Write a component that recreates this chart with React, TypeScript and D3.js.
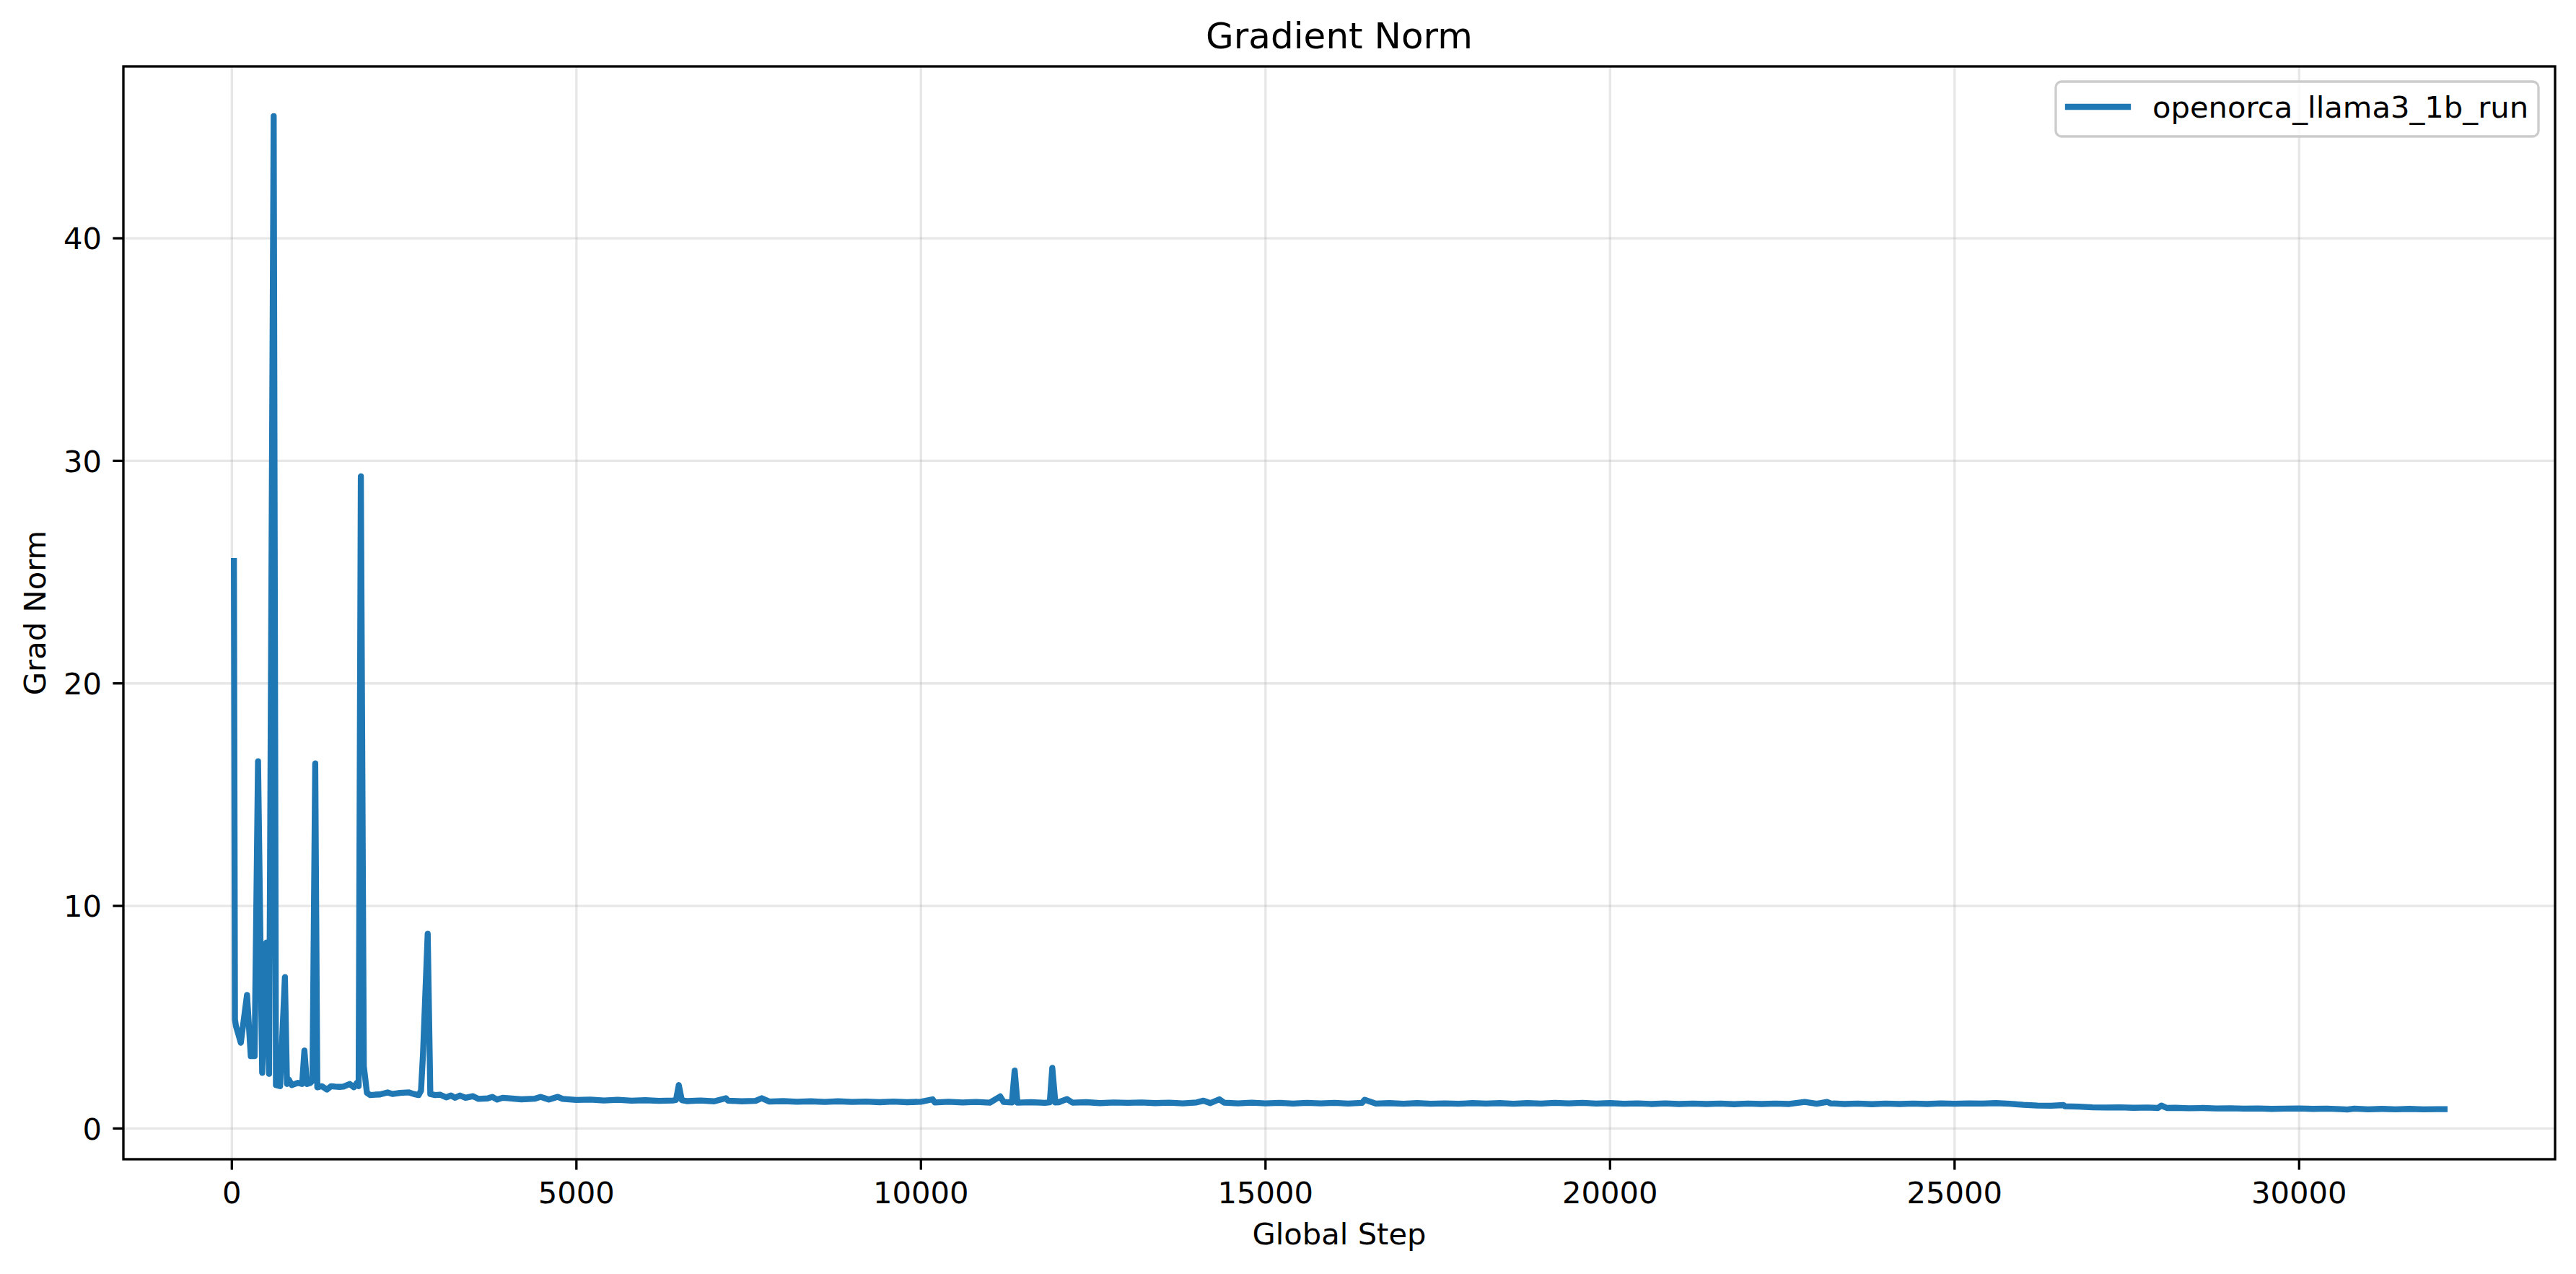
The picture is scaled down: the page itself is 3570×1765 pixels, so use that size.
import React, { useRef, useEffect } from "react";
import * as d3 from "d3";

// early part of the run: spikes
const earlySteps: [number, number][] = [
  [30, 25.5], [45, 4.9], [60, 4.6], [130, 3.85], [220, 6.0], [275, 3.25], [330, 3.25],
  [380, 16.5], [440, 2.5], [500, 8.35], [540, 2.45], [607, 45.49], [640, 1.95], [700, 1.9],
  [770, 6.8], [800, 2.0], [826, 2.2], [870, 1.95], [960, 2.05], [1020, 2.0], [1053, 3.5],
  [1090, 2.0], [1140, 2.05], [1170, 2.15], [1210, 16.4], [1240, 1.85], [1305, 1.9],
  [1380, 1.75], [1440, 1.9], [1500, 1.88], [1560, 1.87], [1620, 1.88], [1710, 2.0],
  [1770, 1.85], [1815, 2.05], [1840, 1.9], [1872, 29.3], [1915, 2.8], [1960, 1.6],
  [2010, 1.5], [2080, 1.52], [2150, 1.53], [2260, 1.62], [2330, 1.55], [2440, 1.6],
  [2570, 1.62], [2640, 1.55], [2710, 1.5], [2745, 1.7], [2775, 3.4], [2842, 8.75],
  [2880, 1.55], [2950, 1.5], [3020, 1.52], [3110, 1.4], [3180, 1.48], [3240, 1.38],
  [3310, 1.48], [3390, 1.38], [3500, 1.45], [3580, 1.33], [3710, 1.35], [3780, 1.42],
  [3850, 1.3], [3930, 1.38],
];

// long flat tail
const tailSteps: [number, number][] = [
  [4000, 1.36], [4200, 1.31], [4400, 1.34], [4480, 1.42], [4600, 1.30], [4730, 1.42], [4800, 1.33],
  [5000, 1.28], [5200, 1.30], [5400, 1.26], [5600, 1.29], [5800, 1.25], [6000, 1.27],
  [6200, 1.24], [6400, 1.26], [6445, 1.28], [6486, 1.95], [6530, 1.27], [6600, 1.23],
  [6800, 1.26], [7000, 1.22], [7170, 1.36], [7200, 1.25], [7400, 1.22], [7600, 1.24],
  [7690, 1.36], [7800, 1.21], [8000, 1.23], [8200, 1.20], [8400, 1.22], [8600, 1.19],
  [8800, 1.22], [9000, 1.19], [9200, 1.21], [9400, 1.18], [9600, 1.21], [9800, 1.18],
  [10000, 1.20], [10170, 1.31], [10200, 1.17], [10400, 1.20], [10600, 1.17], [10800, 1.19],
  [11000, 1.16], [11150, 1.44], [11200, 1.19], [11320, 1.17], [11360, 2.6], [11400, 1.16],
  [11600, 1.18], [11800, 1.15], [11870, 1.18], [11906, 2.72], [11950, 1.17], [12000, 1.18],
  [12120, 1.32], [12200, 1.16], [12400, 1.18], [12600, 1.14], [12800, 1.17], [13000, 1.15],
  [13200, 1.17], [13400, 1.14], [13600, 1.16], [13800, 1.13], [14000, 1.17], [14100, 1.25],
  [14200, 1.14], [14330, 1.31], [14400, 1.16], [14600, 1.13], [14800, 1.16], [15000, 1.13],
  [15200, 1.15], [15400, 1.12], [15600, 1.15], [15800, 1.13], [16000, 1.15], [16200, 1.12],
  [16400, 1.15], [16440, 1.29], [16600, 1.12], [16800, 1.14], [17000, 1.11], [17200, 1.14],
  [17400, 1.11], [17600, 1.13], [17800, 1.11], [18000, 1.14], [18200, 1.12], [18400, 1.14],
  [18600, 1.11], [18800, 1.14], [19000, 1.12], [19200, 1.15], [19400, 1.13], [19600, 1.15],
  [19800, 1.12], [20000, 1.14], [20200, 1.11], [20400, 1.13], [20600, 1.10], [20800, 1.13],
  [21000, 1.10], [21200, 1.12], [21400, 1.10], [21600, 1.12], [21800, 1.09], [22000, 1.12],
  [22200, 1.10], [22400, 1.12], [22600, 1.10], [22825, 1.19], [23000, 1.11], [23150, 1.19],
  [23200, 1.13], [23400, 1.10], [23600, 1.12], [23800, 1.09], [24000, 1.12], [24200, 1.10],
  [24400, 1.12], [24600, 1.10], [24800, 1.13], [25000, 1.11], [25200, 1.13], [25400, 1.12],
  [25600, 1.14], [25800, 1.11], [26000, 1.06], [26200, 1.03], [26400, 1.02], [26580, 1.05],
  [26600, 1.00], [26800, 0.98], [27000, 0.95], [27200, 0.94], [27400, 0.95], [27600, 0.93],
  [27800, 0.94], [27950, 0.92], [28000, 1.03], [28080, 0.92], [28200, 0.93], [28400, 0.91],
  [28600, 0.92], [28800, 0.90], [29000, 0.91], [29200, 0.89], [29400, 0.90], [29600, 0.88],
  [29800, 0.89], [30000, 0.90], [30200, 0.88], [30400, 0.89], [30600, 0.87], [30700, 0.85],
  [30800, 0.89], [31000, 0.86], [31200, 0.88], [31400, 0.86], [31600, 0.88], [31800, 0.86],
  [32000, 0.87], [32110, 0.87],
];

const xTicks = [0, 5000, 10000, 15000, 20000, 25000, 30000];
const yTicks = [0, 10, 20, 30, 40];
const seriesName = "openorca_llama3_1b_run";

const GradNorm: React.FC = () => {
  const svgRef = useRef<SVGSVGElement | null>(null);

  useEffect(() => {
    if (!svgRef.current) return;
    const width = 3570;
    const height = 1765;
    const m = { left: 171, right: 3541, top: 92, bottom: 1606 };
    const font = "DejaVu Sans, sans-serif";
    const fs = 41.7;
    const lw = 3.33;
    const data = [...earlySteps, ...tailSteps];

    const svg = d3.select(svgRef.current);
    svg.selectAll("*").remove();
    svg.attr("width", width).attr("height", height).attr("viewBox", `0 0 ${width} ${height}`);

    // matplotlib style 5% margins
    const [x0, x1] = d3.extent(data, d => d[0]) as [number, number];
    const [y0, y1] = d3.extent(data, d => d[1]) as [number, number];
    const xm = (x1 - x0) * 0.05;
    const ym = (y1 - y0) * 0.05;
    const x = d3.scaleLinear().domain([x0 - xm, x1 + xm]).range([m.left, m.right]);
    const y = d3.scaleLinear().domain([y0 - ym, y1 + ym]).range([m.bottom, m.top]);

    svg.append("rect").attr("width", width).attr("height", height).attr("fill", "white");

    // grid
    const grid = svg.append("g").attr("stroke", "#b0b0b0").attr("stroke-opacity", 0.3).attr("stroke-width", lw);
    grid.selectAll("line.gx").data(xTicks).join("line")
      .attr("x1", d => x(d)).attr("x2", d => x(d)).attr("y1", m.top).attr("y2", m.bottom);
    grid.selectAll("line.gy").data(yTicks).join("line")
      .attr("y1", d => y(d)).attr("y2", d => y(d)).attr("x1", m.left).attr("x2", m.right);

    // series
    const line = d3.line<[number, number]>().x(d => x(d[0])).y(d => y(d[1]));
    svg.append("path")
      .datum(data)
      .attr("d", line)
      .attr("fill", "none")
      .attr("stroke", "#1f77b4")
      .attr("stroke-width", 8.33)
      .attr("stroke-linejoin", "round")
      .attr("stroke-linecap", "square");

    // spines
    svg.append("rect")
      .attr("x", m.left).attr("y", m.top)
      .attr("width", m.right - m.left).attr("height", m.bottom - m.top)
      .attr("fill", "none").attr("stroke", "black").attr("stroke-width", lw);

    // ticks
    const tickG = svg.append("g").attr("font-family", font).attr("font-size", fs).attr("fill", "black");
    xTicks.forEach(t => {
      tickG.append("line").attr("x1", x(t)).attr("x2", x(t)).attr("y1", m.bottom).attr("y2", m.bottom + 14.6)
        .attr("stroke", "black").attr("stroke-width", lw);
      tickG.append("text").attr("x", x(t)).attr("y", m.bottom + 61).attr("text-anchor", "middle").text(t);
    });
    yTicks.forEach(t => {
      tickG.append("line").attr("x1", m.left - 14.6).attr("x2", m.left).attr("y1", y(t)).attr("y2", y(t))
        .attr("stroke", "black").attr("stroke-width", lw);
      tickG.append("text").attr("x", m.left - 30).attr("y", y(t) + 15.2).attr("text-anchor", "end").text(t);
    });

    // labels
    const cx = (m.left + m.right) / 2;
    svg.append("text").attr("x", cx).attr("y", 67).attr("text-anchor", "middle")
      .attr("font-family", font).attr("font-size", 50).text("Gradient Norm");
    svg.append("text").attr("x", cx).attr("y", 1724).attr("text-anchor", "middle")
      .attr("font-family", font).attr("font-size", fs).text("Global Step");
    svg.append("text").attr("transform", `translate(63,${(m.top + m.bottom) / 2}) rotate(-90)`)
      .attr("text-anchor", "middle").attr("font-family", font).attr("font-size", fs).text("Grad Norm");

    // legend
    const lg = svg.append("g");
    lg.append("rect").attr("x", 2849).attr("y", 113).attr("width", 669).attr("height", 76).attr("rx", 8)
      .attr("fill", "white").attr("fill-opacity", 0.8).attr("stroke", "#cccccc").attr("stroke-width", lw);
    lg.append("line").attr("x1", 2866).attr("x2", 2949).attr("y1", 148).attr("y2", 148)
      .attr("stroke", "#1f77b4").attr("stroke-width", 8.33).attr("stroke-linecap", "square");
    lg.append("text").attr("x", 2983).attr("y", 163).attr("font-family", font).attr("font-size", fs).text(seriesName);
  }, []);

  return <svg ref={svgRef} style={{ position: "absolute", left: 0, top: 0, display: "block" }} />;
};

export default function App() {
  return <GradNorm />;
}
